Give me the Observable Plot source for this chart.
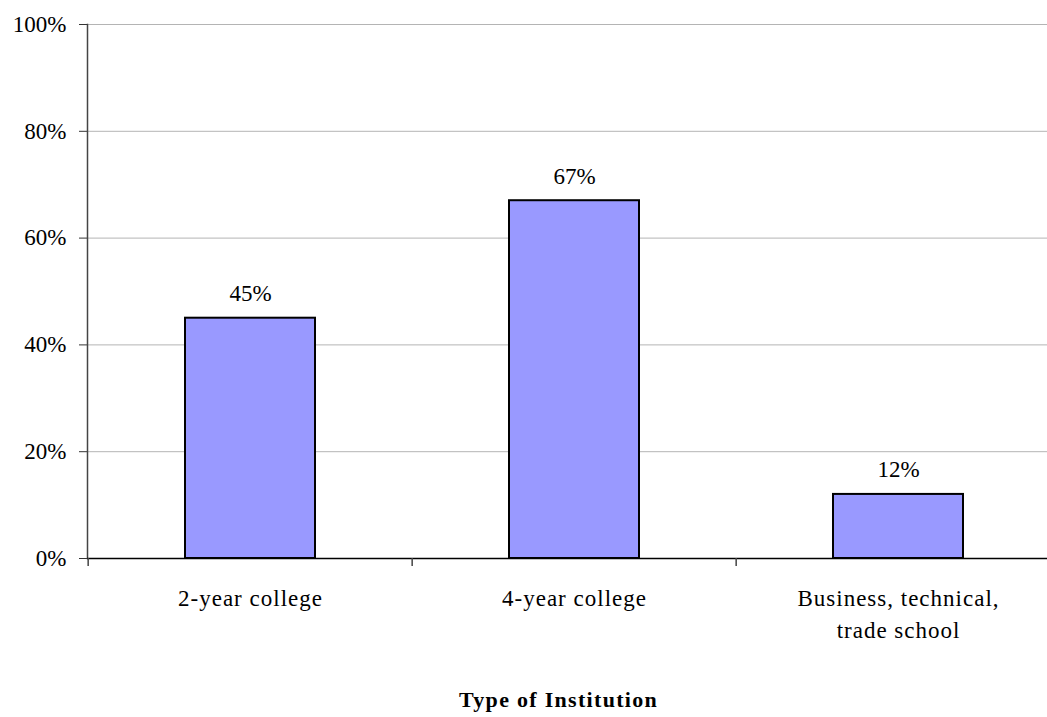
<!DOCTYPE html>
<html>
<head>
<meta charset="utf-8">
<script src="https://cdn.jsdelivr.net/npm/d3@7"></script>
<script src="https://cdn.jsdelivr.net/npm/@observablehq/plot@0.6"></script>
<style>
  html, body { margin: 0; padding: 0; background: #fff; overflow: hidden; }
  #chart svg { max-width: none !important; height: 717px !important; }
  g[aria-description="category labels"] { letter-spacing: 1px; }
  g[aria-description="axis title"] { letter-spacing: 1.3px; }
</style>
</head>
<body>
<div id="chart"></div>
<script>
// Share of respondents by type of institution
const institutions = ["2-year college", "4-year college", "Business, technical,\ntrade school"];
const shares = [45, 67, 12];
const yTicks = [0, 20, 40, 60, 80, 100];
const axisTitle = "Type of Institution";

const data = institutions.map((name, i) => ({name, share: shares[i]}));

const W = 1062, marginLeft = 87, marginRight = 1;
const step = (W - marginLeft - marginRight) / institutions.length;
const font = "'Liberation Serif', 'Times New Roman', Times, serif";

const chart = Plot.plot({
  width: W,
  height: 717,
  marginTop: 24,
  marginBottom: 159,
  marginLeft,
  marginRight,
  style: `font-family: ${font}; font-size: 23px; color: #000; background: #fff; max-width: none;`,
  x: {domain: institutions, paddingInner: 0.6, paddingOuter: 0.3, axis: null},
  y: {domain: [0, 100], axis: null},
  marks: [
    Plot.gridY(yTicks, {stroke: "#b4b4b4", strokeOpacity: 1, strokeWidth: 1}),
    Plot.axisY(yTicks, {
      tickFormat: d => d + "%",
      tickSize: 8,
      tickPadding: 13,
      fontSize: 23,
      fontFamily: font,
      stroke: "#333",
      label: null
    }),
    Plot.frame({anchor: "left", stroke: "#444", strokeWidth: 1.5}),
    Plot.barY(data, {x: "name", y: "share", fill: "#9999FF", stroke: "#000", strokeWidth: 2}),
    Plot.ruleY([0], {stroke: "#000", strokeWidth: 1.5}),
    // tick marks at category boundaries
    Plot.ruleX(institutions, {x: d => d, dx: -step / 2, y1: 0, y2: -1.5, stroke: "#444", strokeWidth: 1.5}),
    Plot.text(data, {x: "name", y: "share", text: d => d.share + "%", dy: -17, lineAnchor: "bottom", fontSize: 23, fontFamily: font}),
    Plot.text(institutions, {
      x: d => d, frameAnchor: "bottom", lineAnchor: "top", dy: 25, lineHeight: 1.39,
      fontSize: 23, fontFamily: font, ariaDescription: "category labels"
    }),
    Plot.text([axisTitle], {
      frameAnchor: "bottom", dx: -16, dy: 133, lineAnchor: "top",
      fontWeight: "bold", fontSize: 22, fontFamily: font, ariaDescription: "axis title"
    })
  ]
});

document.getElementById("chart").append(chart);
</script>
</body>
</html>
